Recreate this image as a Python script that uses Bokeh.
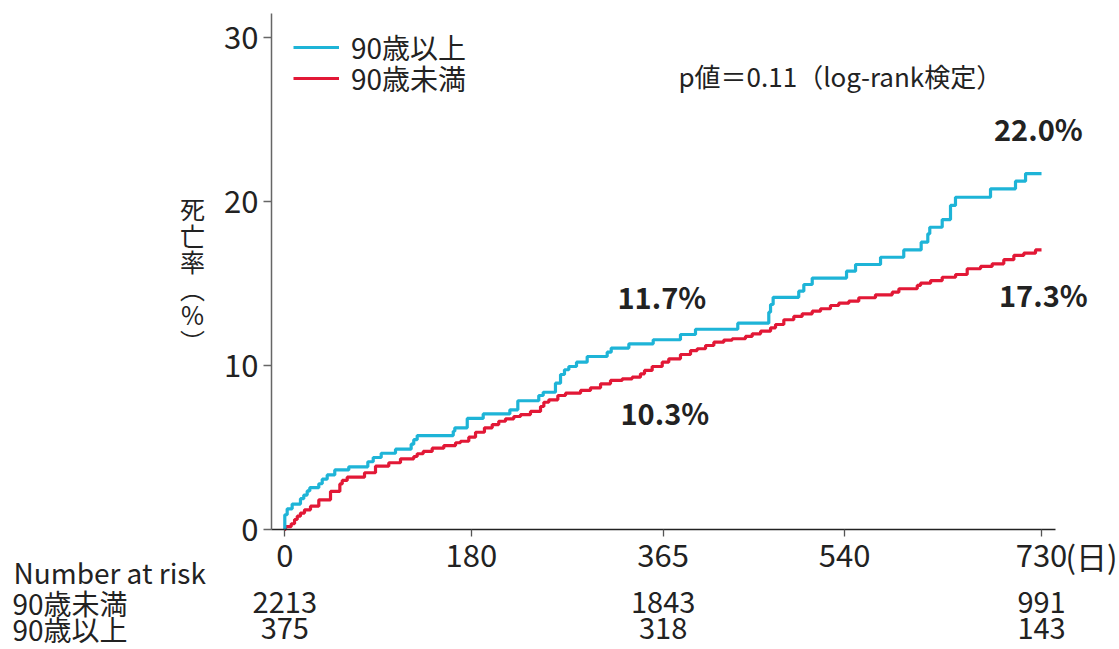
from bokeh.plotting import figure
from bokeh.models import (Range1d, FixedTicker, Label, LabelSet, ColumnDataSource,
                          Legend, LegendItem)
from bokeh.core.properties import value
from bokeh.embed import file_html
from bokeh.resources import INLINE

FONT = "Noto Sans CJK JP"
BLUE = "#1EB4D7"
RED = "#E21836"
TXT = "#222222"

# ---- data (days, cumulative mortality %) ----
blue_days = [0, 2.3, 7.1, 15.1, 18.3, 21.6, 24.1, 32.8, 36.1, 40.9, 48.2, 61.7,
             80.1, 85.3, 93.0, 106.8, 121.9, 124.4, 127.7, 162.5, 164.0, 176.0,
             191.4, 217.1, 224.8, 245.0, 249.3, 261.1, 266.0, 269.8, 274.0,
             281.4, 291.7, 311.0, 314.9, 331.9, 355.4, 381.7, 396.2, 437.0,
             466.9, 468.6, 471.1, 495.8, 500.7, 508.8, 541.9, 550.6, 574.7,
             597.1, 613.9, 620.3, 622.2, 634.2, 642.2, 647.0, 680.8, 704.9, 714.6]
blue_vals = [0.9, 1.26, 1.55, 1.88, 2.1, 2.35, 2.55, 2.79, 3.07, 3.33, 3.63, 3.82,
             4.13, 4.39, 4.65, 4.9, 5.2, 5.48, 5.73, 5.99, 6.2, 6.77,
             7.05, 7.3, 7.85, 8.17, 8.37, 8.92, 9.45, 9.74, 9.94,
             10.2, 10.55, 10.81, 11.06, 11.32, 11.57, 11.89, 12.21, 12.58,
             13.25, 13.72, 14.16, 14.53, 14.94, 15.33, 15.75, 16.16, 16.6,
             17.05, 17.52, 18.03, 18.43, 18.9, 19.76, 20.26, 20.77, 21.24, 21.7]

red_days = [0.7, 6.2, 9.4, 12.0, 15.1, 19.0, 24.8, 32.8, 44.1, 53.1, 55.4, 60.2,
            76.9, 87.5, 100.3, 111.6, 124.4, 127.7, 133.5, 142.2, 153.4, 164.7,
            169.5, 177.5, 184.0, 192.6, 200.1, 206.4, 212.9, 220.9, 227.4, 237.0,
            246.7, 249.9, 254.7, 263.4, 270.8, 285.3, 294.9, 304.6, 314.2, 325.5,
            335.1, 343.1, 347.0, 354.4, 364.1, 370.4, 381.7, 391.4, 397.8, 405.9,
            413.9, 423.5, 431.6, 444.4, 450.9, 459.0, 468.6, 473.4, 481.4, 491.0,
            499.1, 508.8, 516.8, 526.4, 534.4, 544.1, 553.7, 569.8, 586.0, 592.4,
            610.1, 613.3, 623.0, 634.2, 647.1, 658.3, 671.2, 682.4, 693.6, 703.3,
            712.9, 724.2]
red_vals = [0.18, 0.35, 0.61, 0.81, 1.0, 1.2, 1.42, 1.81, 2.32, 2.78, 2.99, 3.19,
            3.46, 3.86, 4.07, 4.31, 4.45, 4.62, 4.76, 4.96, 5.12, 5.29,
            5.38, 5.63, 5.93, 6.2, 6.4, 6.6, 6.75, 6.89, 7.01, 7.2,
            7.5, 7.76, 7.91, 8.17, 8.31, 8.48, 8.64, 8.88, 9.09, 9.19,
            9.29, 9.49, 9.7, 9.94, 10.2, 10.41, 10.67, 10.91, 11.02, 11.22,
            11.42, 11.55, 11.63, 11.77, 11.93, 12.09, 12.3, 12.5, 12.79, 12.99,
            13.15, 13.31, 13.46, 13.66, 13.8, 13.92, 14.13, 14.31, 14.47, 14.68,
            14.88, 15.02, 15.18, 15.38, 15.55, 15.9, 16.04, 16.2, 16.45, 16.71,
            16.85, 17.05]

end_day = 730

x_ticks = [0, 180, 365, 540, 730]
y_ticks = [0, 10, 20, 30]

risk_days = [0, 365, 730]
risk_under90 = [2213, 1843, 991]
risk_over90 = [375, 318, 143]

series_labels = ["90歳以上", "90歳未満"]
annot_texts = ["11.7%", "10.3%", "22.0%", "17.3%"]
pvalue_text = "p値＝0.11（log-rank検定）"

# ---- canvas <-> data helpers (used only to place texts / frame) ----
W, H = 1119, 649
X0, KX = 284.3, 1.0366   # pixel of day 0, pixels per day
Y0, KY = 529.0, 16.4     # pixel of 0 %, pixels per %


def dx(px):
    return (px - X0) / KX


def dy(py):
    return (Y0 - py) / KY


p = figure(width=W, height=H,
           x_range=Range1d(dx(0), dx(W)), y_range=Range1d(dy(H), dy(0)),
           output_backend="svg", toolbar_location=None)
p.min_border = 0
p.min_border_left = 0
p.min_border_right = 0
p.min_border_top = 0
p.min_border_bottom = 0
p.xgrid.visible = False
p.ygrid.visible = False
p.outline_line_color = None
p.background_fill_color = "white"
p.border_fill_color = "white"


def step_xy(days, vals):
    xs = [0] + list(days) + [end_day]
    ys = [0] + list(vals) + [vals[-1]]
    return xs, ys


rx, ry = step_xy(red_days, red_vals)
bx, by = step_xy(blue_days, blue_vals)
r_red = p.step(x=rx, y=ry, mode="after", line_width=3.2, line_color=RED)
r_blue = p.step(x=bx, y=by, mode="after", line_width=3.2, line_color=BLUE)

# ---- axes (drawn at fixed locations inside the full-canvas frame) ----
xa = p.xaxis[0]
xa.fixed_location = 0
xa.bounds = (dx(271), dx(1055))
xa.ticker = FixedTicker(ticks=x_ticks)
xa.axis_line_color = "#222222"
xa.axis_line_width = 1.5
xa.major_tick_line_color = "#555555"
xa.major_tick_line_width = 1.3
xa.major_tick_out = 7
xa.major_tick_in = 0
xa.minor_tick_line_color = None
xa.major_label_text_font = FONT
xa.major_label_text_font_size = "31px"
xa.major_label_text_color = TXT
xa.major_label_standoff = 7

ya = p.yaxis[0]
ya.fixed_location = dx(271)
ya.bounds = (0, dy(12.7))
ya.ticker = FixedTicker(ticks=y_ticks)
ya.axis_line_color = "#666666"
ya.axis_line_width = 1.5
ya.major_tick_line_color = "#666666"
ya.major_tick_line_width = 1.3
ya.major_tick_out = 8
ya.major_tick_in = 0
ya.minor_tick_line_color = None
ya.major_label_text_font = FONT
ya.major_label_text_font_size = "31px"
ya.major_label_text_color = TXT
ya.major_label_standoff = 5

# ---- legends (one per entry) ----
LEG_H = 30        # requested item height
LEG_REAL_H = 39   # height the legend actually takes with its text


def make_legend(label, renderer, center_y):
    lg = Legend(items=[LegendItem(label=label, renderers=[renderer])],
                location=(293, H - center_y - LEG_REAL_H / 2), orientation="vertical",
                border_line_color=None, background_fill_alpha=0,
                padding=0, margin=0, spacing=0,
                glyph_width=46, glyph_height=LEG_H, label_height=LEG_H,
                label_standoff=12,
                label_text_font=FONT, label_text_font_size="28px",
                label_text_color=TXT)
    p.add_layout(lg)


make_legend(series_labels[0], r_blue, 47.5)
make_legend(series_labels[1], r_red, 78.0)


def add_text(text, px, py, size, align="left", bold=False, line_height=1.2):
    p.add_layout(Label(x=dx(px), y=dy(py), text=text, text_align=align,
                       text_baseline="middle", text_font=FONT,
                       text_font_size=size,
                       text_font_style="bold" if bold else "normal",
                       text_line_height=line_height, text_color=TXT))


# y-axis title (vertical, upright characters)
add_text("死\n亡\n率\n︵\n%\n︶", 192, 274, "25px", align="center", line_height=0.74)

# unit next to 730
add_text("(日)", 1065, 555, "31px")

# p-value
add_text(pvalue_text, 678, 75, "26px")

# percentage annotations
annot_px = [(617, 295), (620, 411), (993.5, 127.5), (998.5, 293)]
for t, (ax_, ay_) in zip(annot_texts, annot_px):
    add_text(t, ax_, ay_, "29px", bold=True)

# number-at-risk table
add_text("Number at risk", 13, 571.5, "28px")
add_text(series_labels[1], 12, 602, "28px")
add_text(series_labels[0], 12, 628, "28px")

src = ColumnDataSource(dict(day=risk_days,
                            under=[str(v) for v in risk_under90],
                            over=[str(v) for v in risk_over90],
                            y1=[dy(602)] * len(risk_days),
                            y2=[dy(628)] * len(risk_days)))
for col, ycol in (("under", "y1"), ("over", "y2")):
    p.add_layout(LabelSet(x="day", y=ycol, text=col, source=src, text_align="center",
                          text_baseline="middle", text_font=value(FONT),
                          text_font_size=value("29px"), text_color=TXT))

open("out.html", "w").write(file_html(p, INLINE))
